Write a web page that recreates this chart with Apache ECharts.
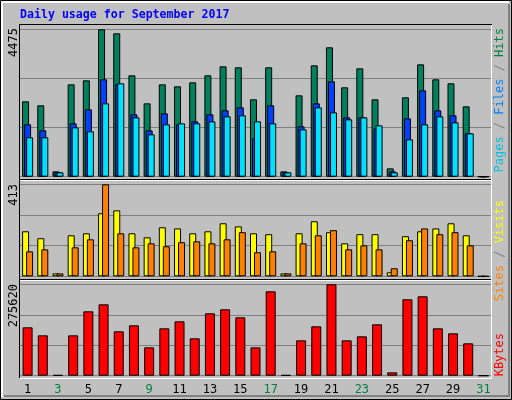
<!DOCTYPE html>
<html>
<head>
<meta charset="utf-8">
<script src="https://cdn.jsdelivr.net/npm/echarts@6/dist/echarts.min.js"></script>
<style>html,body{margin:0;padding:0;background:#c0c0c0}#main{width:512px;height:400px}</style>
</head>
<body>
<div id="main"></div>
<script>
// daily numbers, September 2017 (day 31 has no data)
var days = ['1','2','3','4','5','6','7','8','9','10','11','12','13','14','15','16','17','18','19','20','21','22','23','24','25','26','27','28','29','30','31'];
var weekend = ['2','3','9','10','16','17','23','24','30','31'];
var hits = [2288,2167,162,2804,2926,4475,4353,3078,2227,2804,2744,2865,3078,3351,3321,2349,3321,162,2470,3381,3928,2713,3290,2349,253,2410,3412,2956,2835,2136,0];
var files = [1590,1407,132,1620,2045,2956,2804,1893,1407,1924,1590,1681,1893,2015,2106,1164,2167,132,1529,2227,2896,1802,1802,1468,162,1772,2622,2015,1863,1316,0];
var pages = [1195,1195,132,1498,1377,2227,2835,1802,1286,1590,1620,1620,1681,1833,1863,1681,1620,132,1438,2106,1954,1741,1802,1559,132,1134,1590,1833,1650,1316,0];
var visits = [202,171,13,184,193,283,296,193,175,220,215,193,202,238,224,193,189,13,193,247,198,148,189,189,18,180,202,215,238,184,0];
var sites = [112,121,13,130,166,413,193,130,148,135,153,157,148,166,198,108,112,13,148,184,207,121,139,121,36,162,215,189,198,139,0];
var kbytes = [145859,121717,2000,121717,194143,215267,133788,151894,85503,142841,163965,112663,188108,200179,176036,85503,254497,2000,106628,148876,275620,106628,118699,154912,10059,230356,239409,142841,127751,97573,0];

var chart = echarts.init(document.getElementById('main'));
var mono = 'DejaVu Sans Mono';
var L = 20, R = 21;

function grid(top, h) { return { left: L, right: R, top: top, height: h }; }
function xax(i, show) {
    return {
        type: 'category', data: days, gridIndex: i,
        axisLine: { show: false }, axisTick: { show: false },
        axisLabel: show ? {
            show: true, fontFamily: mono, fontSize: 12, margin: 8,
            color: function (v) { return weekend.indexOf(v) >= 0 ? '#008040' : '#000000'; }
        } : { show: false }
    };
}
function yax(i, max) {
    return {
        type: 'value', gridIndex: i, min: 0, max: max, interval: max / 3,
        axisLabel: { show: false }, axisLine: { show: false }, axisTick: { show: false },
        splitLine: { lineStyle: { color: '#808080', width: 1 } }
    };
}
function bar(name, data, ax, color, w, gap) {
    return {
        type: 'bar', name: name, data: data, xAxisIndex: ax, yAxisIndex: ax,
        barWidth: w, barGap: gap, animation: false,
        itemStyle: { color: color, borderColor: '#000', borderWidth: 1 }
    };
}
function vtext(x, y, rich, parts) {
    return {
        type: 'text', x: x, y: y, rotation: Math.PI / 2,
        style: { text: parts, rich: rich, font: '12px ' + mono, align: 'right', verticalAlign: 'middle' }
    };
}
var rich = {
    p: { fill: '#00c0e0', font: '12px ' + mono }, f: { fill: '#0080ff', font: '12px ' + mono },
    h: { fill: '#008040', font: '12px ' + mono }, s: { fill: '#808080', font: '12px ' + mono },
    vi: { fill: '#ffff00', font: '12px ' + mono }, si: { fill: '#ff8000', font: '12px ' + mono },
    k: { fill: '#ff0000', font: '12px ' + mono }
};

chart.setOption({
    backgroundColor: '#c0c0c0',
    grid: [grid(29.3, 147.4), grid(184.3, 92), grid(284.3, 91.4)],
    xAxis: [xax(0, false), xax(1, false), xax(2, true)],
    yAxis: [yax(0, 4475), yax(1, 413), yax(2, 275620)],
    series: [
        bar('Hits', hits, 0, '#00805c', 7, '-71%'),
        bar('Files', files, 0, '#0040ff', 7, '-71%'),
        bar('Pages', pages, 0, '#00e0ff', 7, '-71%'),
        bar('Visits', visits, 1, '#ffff00', 7, '-43%'),
        bar('Sites', sites, 1, '#ff8000', 7, '-43%'),
        bar('KBytes', kbytes, 2, '#ff0000', 10, '0%')
    ],
    graphic: [
        { type: 'rect', z: -10, shape: { x: 0.5, y: 0.5, width: 511, height: 399 }, style: { fill: 'none', stroke: '#000', lineWidth: 1 } },
        { type: 'polyline', z: -10, shape: { points: [[2, 397], [2, 2], [509, 2]] }, style: { stroke: '#ffffff', lineWidth: 2, fill: 'none' } },
        { type: 'polyline', z: -10, shape: { points: [[4, 396], [509, 396], [509, 4]] }, style: { stroke: '#808080', lineWidth: 2, fill: 'none' } },
        { type: 'polyline', z: -10, shape: { points: [[19.5, 378], [19.5, 24.5], [492, 24.5]] }, style: { stroke: '#000', lineWidth: 1, fill: 'none' } },
        { type: 'polyline', z: -10, shape: { points: [[20, 378.5], [491.5, 378.5], [491.5, 25]] }, style: { stroke: '#ffffff', lineWidth: 1, fill: 'none' } },
        { type: 'line', z: -10, shape: { x1: 20, y1: 179.5, x2: 491, y2: 179.5 }, style: { stroke: '#000', lineWidth: 1 } },
        { type: 'line', z: -10, shape: { x1: 20, y1: 180.5, x2: 491, y2: 180.5 }, style: { stroke: '#ffffff', lineWidth: 1 } },
        { type: 'line', z: -10, shape: { x1: 20, y1: 279.5, x2: 491, y2: 279.5 }, style: { stroke: '#000', lineWidth: 1 } },
        { type: 'line', z: -10, shape: { x1: 20, y1: 280.5, x2: 491, y2: 280.5 }, style: { stroke: '#ffffff', lineWidth: 1 } },
        { type: 'text', x: 20, y: 15, style: { text: 'Daily usage for September 2017', font: 'bold 11.6px ' + mono, fill: '#0000ff', verticalAlign: 'middle' } },
        { type: 'text', x: 14, y: 28, rotation: Math.PI / 2, style: { text: '4475', font: '12px ' + mono, fill: '#000', align: 'right', verticalAlign: 'middle' } },
        { type: 'text', x: 14, y: 184, rotation: Math.PI / 2, style: { text: '413', font: '12px ' + mono, fill: '#000', align: 'right', verticalAlign: 'middle' } },
        { type: 'text', x: 14, y: 284, rotation: Math.PI / 2, style: { text: '275620', font: '12px ' + mono, fill: '#000', align: 'right', verticalAlign: 'middle' } },
        vtext(500, 28, rich, '{p|Pages}{s| / }{f|Files}{s| / }{h|Hits}'),
        vtext(500, 200, rich, '{si|Sites}{s| / }{vi|Visits}'),
        vtext(500, 333, rich, '{k|KBytes}')
    ]
});
</script>
</body>
</html>
